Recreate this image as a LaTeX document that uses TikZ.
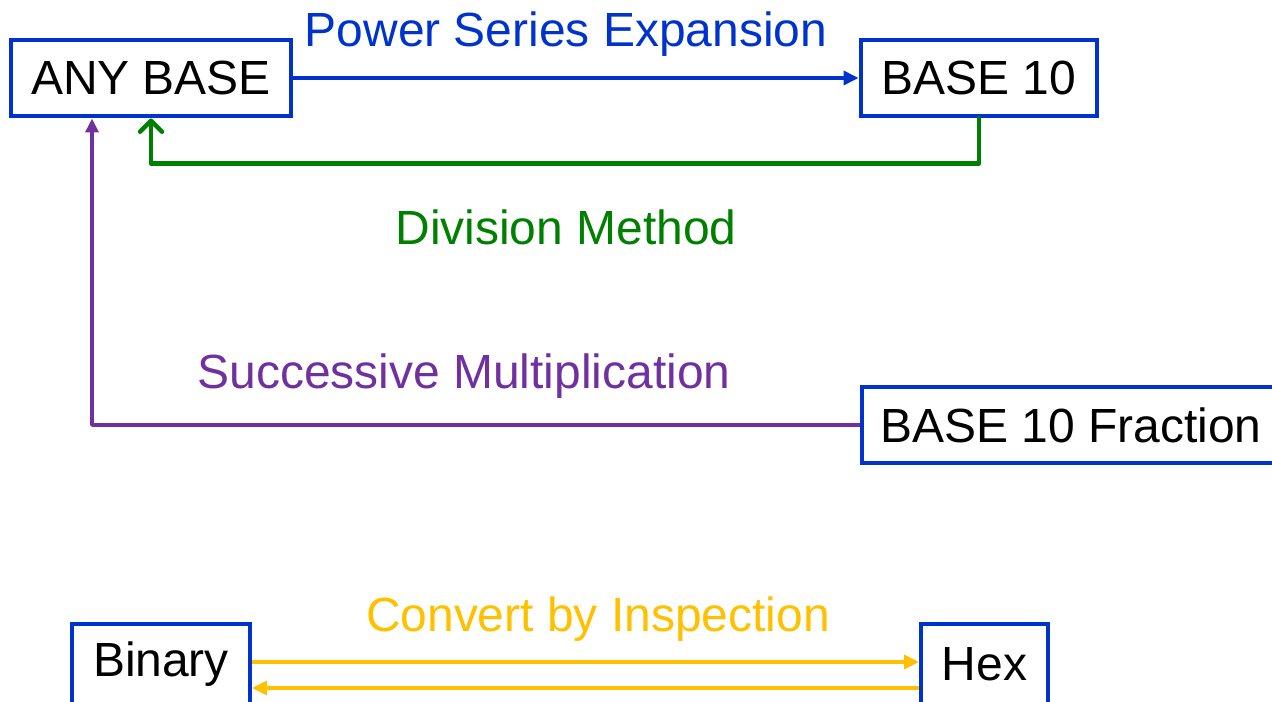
\documentclass[tikz,border=0pt]{standalone}
\usepackage{fontspec}
\setmainfont{Liberation Sans}
\usetikzlibrary{arrows.meta}
\definecolor{bblue}{HTML}{0033CC}
\definecolor{dgreen}{HTML}{008000}
\definecolor{dpurple}{HTML}{7030A0}
\definecolor{dyellow}{HTML}{FFC000}
\begin{document}
\begin{tikzpicture}[x=0.02cm,y=-0.02cm,
  box/.style={draw=bblue, line width=0.08cm, fill=white, inner sep=0pt, minimum height=1.54cm, font=\fontsize{27.3}{30}\selectfont},
  lbl/.style={anchor=base, inner sep=0pt, font=\fontsize{27.3}{30}\selectfont},
  tri/.style={-{Triangle[length=0.3cm,width=0.28cm]}},
]
\useasboundingbox (0,0) rectangle (1272,702);
\node[box, minimum width=5.6cm] (any) at (151,78) {ANY BASE};
\node[box, minimum width=4.74cm] (b10) at (979,78) {BASE 10};
\node[box, minimum width=8.36cm] (frac) at (1071,425) {BASE 10 Fraction};
\node[box, minimum width=3.56cm, minimum height=1.6cm] (bin) at (161,664) {Binary};
\node[box, minimum width=2.54cm, minimum height=1.6cm] (hex) at (984.5,664) {Hex};

\draw[bblue, line width=0.07cm, tri] (any.east) -- (b10.west);
\node[lbl, text=bblue] (pse) at (566,47) {Power Series Expansion};

\draw[dgreen, line width=0.09cm, line cap=round, line join=round,
  -{Straight Barb[length=0.22cm,width=0.44cm,round]}]
  (b10.south) -- ++(0,45) -| (any.south);
\node[lbl, text=dgreen] (dm) at (566,245) {Division Method};

\draw[dpurple, line width=0.07cm, line join=round, -{Triangle[length=0.28cm,width=0.26cm]}]
  (frac.west) -| ([xshift=-1.18cm]any.south);
\node[lbl, text=dpurple] (sm) at (464,389) {Successive Multiplication};

\draw[dyellow, line width=0.07cm, tri] ([yshift=0.04cm]bin.east) -- ([yshift=0.04cm]hex.west);
\draw[dyellow, line width=0.07cm, tri] ([yshift=-0.48cm]hex.west) -- ([yshift=-0.48cm]bin.east);
\node[lbl, text=dyellow] (cbi) at (598,631) {Convert by Inspection};
\end{tikzpicture}
\end{document}
